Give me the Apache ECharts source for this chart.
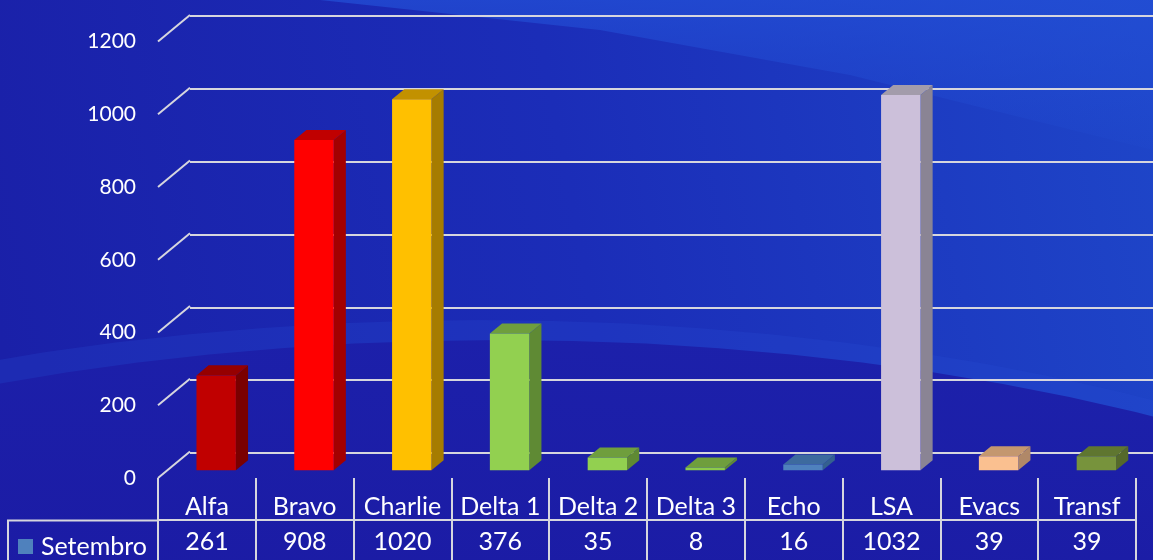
<!DOCTYPE html>
<html>
<head>
<meta charset="utf-8">
<script src="https://cdn.jsdelivr.net/npm/echarts@6/dist/echarts.min.js"></script>
<style>
  html, body { margin: 0; padding: 0; }
  #chart { width: 1153px; height: 560px; }
</style>
</head>
<body>
<div id="chart"></div>
<script>
var categories = ['Alfa', 'Bravo', 'Charlie', 'Delta 1', 'Delta 2', 'Delta 3', 'Echo', 'LSA', 'Evacs', 'Transf'];
var setembro = [261, 908, 1020, 376, 35, 8, 16, 1032, 39, 39];
var yTicks = [0, 200, 400, 600, 800, 1000, 1200];

// front / side / top colour of each bar
var frontColors = ['#c00000', '#ff0000', '#ffc000', '#92d050', '#92d050', '#8ccb4a', '#4f81bd', '#ccc0da', '#fac090', '#77933c'];
var sideColors = ['#7a0000', '#a30000', '#a67c00', '#5f8a34', '#5f8a34', '#5f8a34', '#34608f', '#8a8494', '#b08868', '#55692b'];
var topColors = ['#960000', '#c00000', '#c29100', '#6f9e3d', '#6f9e3d', '#6f9e3d', '#3d6a9e', '#a39cab', '#c4976f', '#5f7630'];

var lineColor = '#d6d6de';
var font = 'Lato';
var DX = 32, DY = 26.4;   // depth of the floor in px

var myChart = echarts.init(document.getElementById('chart'));

// outline of the background swoosh (an ellipse)
function ellipsePoints(cx, cy, rx, ry) {
    var pts = [];
    for (var k = 0; k < 120; k++) {
        var a = Math.PI * 2 * k / 120;
        pts.push([cx + rx * Math.cos(a), cy + ry * Math.sin(a)]);
    }
    return pts;
}

function renderBar(params, api) {
    var i = api.value(0);
    var base = api.coord([i, 0]);
    var top = api.coord([i, api.value(1)]);
    var bw = api.size([1, 0])[0];
    var w = bw * 0.403;
    var f0 = 0.29, f1 = 0.67;
    var x0 = base[0] - w / 2 + DX * f0;
    var x1 = x0 + w;
    var yb = base[1] - DY * f0;
    var yt = top[1] - DY * f0;
    var dx = DX * (f1 - f0), dy = DY * (f1 - f0);
    return {
        type: 'group',
        children: [
            {
                type: 'polygon',
                shape: { points: [[x1, yb], [x1, yt], [x1 + dx, yt - dy], [x1 + dx, yb - dy]] },
                style: { fill: sideColors[i] }
            },
            {
                type: 'polygon',
                shape: { points: [[x0, yt], [x1, yt], [x1 + dx, yt - dy], [x0 + dx, yt - dy]] },
                style: { fill: topColors[i] }
            },
            {
                type: 'rect',
                shape: { x: x0, y: yt, width: w, height: yb - yt },
                style: { fill: frontColors[i] }
            }
        ]
    };
}

function renderDiagonal(params, api) {
    var y = api.coord([0, api.value(0)])[1];
    var x = params.coordSys.x;
    return {
        type: 'line',
        shape: { x1: x, y1: y, x2: x + DX, y2: y - DY },
        style: { stroke: lineColor, lineWidth: 2 }
    };
}

var option = {
    animation: false,
    backgroundColor: {
        type: 'linear', x: 0, y: 0.6, x2: 1, y2: 0.2,
        colorStops: [
            { offset: 0, color: '#1a20a8' },
            { offset: 0.5, color: '#1b2db8' },
            { offset: 1, color: '#1e45c8' }
        ]
    },
    graphic: [
        {
            type: 'polygon', z: -3, silent: true,
            shape: { points: [[320, 0], [600, 30], [850, 75], [1153, 150], [1153, 0]] },
            style: {
                fill: new echarts.graphic.LinearGradient(0, 0, 0, 1, [
                    { offset: 0, color: 'rgba(35,80,215,0.7)' },
                    { offset: 1, color: 'rgba(35,80,215,0.1)' }
                ])
            }
        },
        {
            type: 'polygon', z: -2, silent: true,
            shape: { points: ellipsePoints(480, 980, 1410, 660) },
            style: { fill: 'rgba(40,75,210,0.25)' }
        },
        {
            type: 'polygon', z: -1, silent: true,
            shape: { points: ellipsePoints(500, 1000, 1400, 660) },
            style: {
                fill: new echarts.graphic.LinearGradient(0, 0, 0, 0.4, [
                    { offset: 0, color: 'rgba(28,30,168,0.9)' },
                    { offset: 1, color: 'rgba(26,22,158,1)' }
                ])
            }
        },
        {
            type: 'polyline', silent: true,
            shape: { points: [[8, 560], [8, 520.5], [158, 520.5]] },
            style: { stroke: lineColor, lineWidth: 2, fill: null }
        }
    ],
    legend: {
        data: ['Setembro'],
        left: 18,
        top: 534,
        padding: 0,
        itemWidth: 15,
        itemHeight: 15,
        icon: 'rect',
        textStyle: { color: '#ffffff', fontFamily: font, fontSize: 25, padding: [0, 0, 0, 3] }
    },
    grid: [
        { left: 158, right: 17, top: 41.5, bottom: 82 },
        { left: 190, right: 0, top: 16, bottom: 107 }
    ],
    xAxis: [
        {
            type: 'category',
            gridIndex: 0,
            data: categories,
            position: 'bottom',
            axisLine: { show: false },
            axisTick: { show: true, length: 82, lineStyle: { color: lineColor, width: 2 } },
            axisLabel: {
                interval: 0, margin: 29, verticalAlign: 'middle',
                color: '#ffffff', fontFamily: font, fontSize: 25
            }
        },
        {
            type: 'category',
            gridIndex: 0,
            data: categories,
            position: 'bottom',
            offset: 42,
            axisLine: { show: true, lineStyle: { color: lineColor, width: 2 } },
            axisTick: { show: false },
            axisLabel: {
                interval: 0, margin: 22, verticalAlign: 'middle',
                color: '#ffffff', fontFamily: font, fontSize: 25,
                formatter: function (v, i) { return String(setembro[i]); }
            }
        },
        {
            type: 'category',
            gridIndex: 1,
            data: categories,
            show: false
        }
    ],
    yAxis: [
        {
            type: 'value',
            gridIndex: 0,
            min: 0, max: 1200, interval: 200,
            axisLine: { show: false },
            axisTick: { show: false },
            splitLine: { show: false },
            axisLabel: {
                margin: 22, color: '#ffffff', fontFamily: font, fontSize: 21,
                formatter: function (v) { return String(v); }
            }
        },
        {
            type: 'value',
            gridIndex: 1,
            min: 0, max: 1200, interval: 200,
            axisLine: { show: false },
            axisTick: { show: false },
            axisLabel: { show: false },
            splitLine: { show: true, lineStyle: { color: lineColor, width: 2 } }
        }
    ],
    series: [
        {
            name: 'gridDiagonals',
            type: 'custom',
            xAxisIndex: 0,
            yAxisIndex: 0,
            silent: true,
            data: yTicks.map(function (t) { return [t]; }),
            encode: { y: 0 },
            renderItem: renderDiagonal,
            z: 1
        },
        {
            name: 'Setembro',
            type: 'custom',
            xAxisIndex: 0,
            yAxisIndex: 0,
            zlevel: 1,
            itemStyle: { color: '#4f81bd' },
            data: setembro.map(function (v, i) { return [i, v]; }),
            encode: { x: 0, y: 1 },
            renderItem: renderBar,
            z: 3
        }
    ]
};
myChart.setOption(option);
</script>
</body>
</html>
